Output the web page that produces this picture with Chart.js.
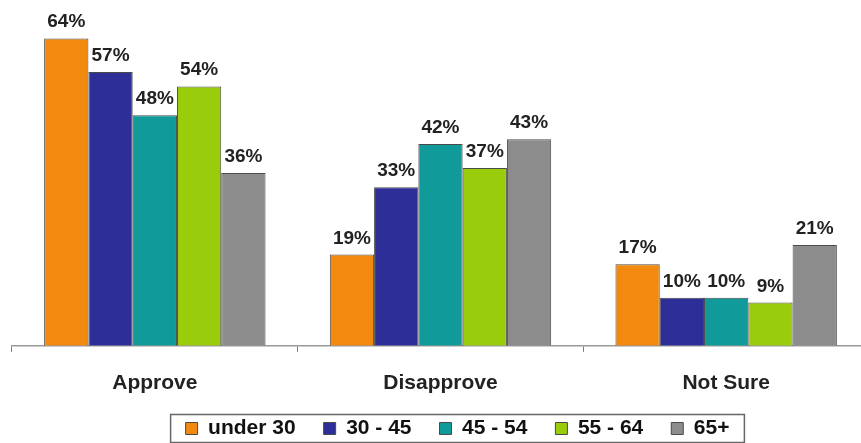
<!DOCTYPE html>
<html>
<head>
<meta charset="utf-8">
<script src="https://cdn.jsdelivr.net/npm/chart.js@4"></script>
<style>
  html, body { margin: 0; padding: 0; background: #fff; overflow: hidden; }
  #wrap { width: 869px; height: 474px; }
</style>
</head>
<body>
<div id="wrap"><canvas id="myChart"></canvas></div>
<script>
Chart.defaults.font.family = '"Liberation Sans", Arial, sans-serif';

var categories = ['Approve', 'Disapprove', 'Not Sure'];
var groups = ['under 30', '30 - 45', '45 - 54', '55 - 64', '65+'];
var under30 = [64, 19, 17];
var age30to45 = [57, 33, 10];
var age45to54 = [48, 42, 10];
var age55to64 = [54, 37, 9];
var age65plus = [36, 43, 21];
var colors = ['#F28A10', '#2E2E98', '#109A9A', '#99CC0A', '#8C8C8C'];

var series = [under30, age30to45, age45to54, age55to64, age65plus];

// labels above each bar
var barLabels = {
  id: 'barLabels',
  afterDatasetsDraw: function(chart) {
    var c = chart.ctx;
    c.save();
    c.font = 'bold 19px "Liberation Sans", Arial, sans-serif';
    c.fillStyle = '#222';
    c.textAlign = 'center';
    c.textBaseline = 'alphabetic';
    chart.data.datasets.forEach(function(ds, i) {
      chart.getDatasetMeta(i).data.forEach(function(bar, j) {
        c.fillText(ds.data[j] + '%', bar.x, bar.y - 11);
      });
    });
    c.restore();
  }
};

// legend sits a bit right of centre and closer to the axis in the original
var legendShift = {
  id: 'legendShift',
  afterLayout: function(chart) {
    var lg = chart.legend;
    lg.left += 17; lg.right += 17;
    lg.top -= 25; lg.bottom -= 25;
  }
};

// border round the legend
var legendBox = {
  id: 'legendBox',
  afterDraw: function(chart) {
    var boxes = chart.legend.legendHitBoxes;
    if (!boxes || !boxes.length) return;
    var l = boxes[0].left, r = 0, t = boxes[0].top, b = 0;
    boxes.forEach(function(h) {
      l = Math.min(l, h.left);
      r = Math.max(r, h.left + h.width);
      t = Math.min(t, h.top);
      b = Math.max(b, h.top + h.height);
    });
    var mid = (t + b) / 2;
    var c = chart.ctx;
    c.save();
    c.strokeStyle = '#666';
    c.lineWidth = 1.5;
    c.strokeRect(l - 15, mid - 14, r - l + 30, 28);
    c.restore();
  }
};

var myChart = new Chart(document.getElementById('myChart'), {
  type: 'bar',
  data: {
    labels: categories,
    datasets: groups.map(function(g, i) {
      return {
        label: g,
        data: series[i],
        backgroundColor: colors[i],
        borderColor: '#4a4a4a',
        borderWidth: 1,
        categoryPercentage: 0.775,
        barPercentage: 1
      };
    })
  },
  options: {
    responsive: true,
    maintainAspectRatio: false,
    animation: false,
    layout: { padding: { left: 12, right: 0, top: 0, bottom: 0 } },
    plugins: {
      tooltip: { enabled: false },
      legend: {
        position: 'bottom',
        labels: {
          boxWidth: 12,
          boxHeight: 12,
          padding: 28,
          color: '#111',
          font: { size: 21, weight: 'bold' }
        }
      }
    },
    scales: {
      x: {
        grid: {
          display: true,
          drawOnChartArea: false,
          drawTicks: true,
          tickLength: 6,
          color: '#777'
        },
        border: { color: '#999', width: 1.5 },
        ticks: {
          color: '#222',
          padding: 19,
          font: { size: 21, weight: 'bold' }
        }
      },
      y: {
        display: false,
        min: 0,
        max: 72
      }
    }
  },
  plugins: [barLabels, legendShift, legendBox]
});
</script>
</body>
</html>
